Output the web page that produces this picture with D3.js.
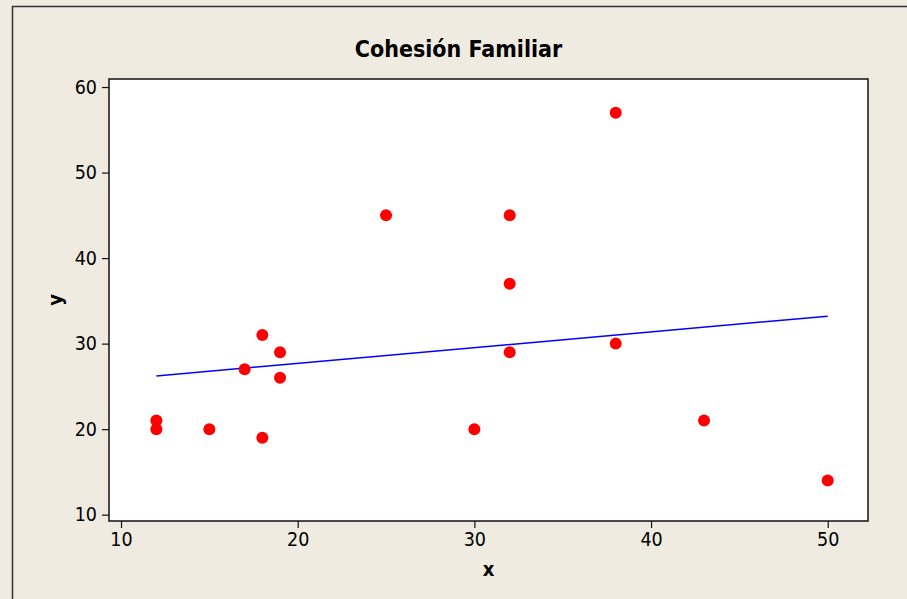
<!DOCTYPE html>
<html><head><meta charset="utf-8">
<script src="https://cdn.jsdelivr.net/npm/d3@7"></script>
<style>
html,body{margin:0;padding:0;background:#EFEBE1;}
svg{display:block;}
text{font-family:"DejaVu Sans Condensed","DejaVu Sans",sans-serif;fill:#000;}
</style></head>
<body>
<svg id="c" width="907" height="599"></svg>
<script>
const xValues = [12,12,15,17,18,18,19,19,25,30,32,32,32,38,38,43,50];
const yValues = [21,20,20,27,31,19,29,26,45,20,45,37,29,57,30,21,14];
const xTicks = [10,20,30,40,50];
const yTicks = [10,20,30,40,50,60];
const titleText = "Cohesión Familiar";
const xLabel = "x", yLabel = "y";

const svg = d3.select("#c");
const W = 907, H = 599;
const m = {left:109, top:79, right:868, bottom:521};

svg.append("rect").attr("x",0).attr("y",0).attr("width",W).attr("height",H).attr("fill","#EFEBE1");
// outer frame
svg.append("rect").attr("x",12.5).attr("y",6.5).attr("width",W+20).attr("height",H+20)
  .attr("fill","none").attr("stroke","#333").attr("stroke-width",1.5);

const x = d3.scaleLinear().domain([9.32,52.28]).range([m.left,m.right]);
const y = d3.scaleLinear().domain([9.26,60.94]).range([m.bottom,m.top]);

svg.append("rect").attr("x",m.left).attr("y",m.top).attr("width",m.right-m.left).attr("height",m.bottom-m.top)
  .attr("fill","#fff");

// regression line (least squares fit of the data)
const n = xValues.length;
const mx = d3.mean(xValues), my = d3.mean(yValues);
let sxy=0,sxx=0;
for(let i=0;i<n;i++){sxy+=(xValues[i]-mx)*(yValues[i]-my);sxx+=(xValues[i]-mx)**2;}
const b = sxy/sxx, a = my-b*mx;
const [x0,x1] = d3.extent(xValues);
svg.append("line").attr("x1",x(x0)).attr("y1",y(a+b*x0)).attr("x2",x(x1)).attr("y2",y(a+b*x1))
  .attr("stroke","#0000FF").attr("stroke-width",1.5);

svg.append("g").selectAll("circle").data(xValues.map((v,i)=>[v,yValues[i]])).join("circle")
  .attr("cx",d=>x(d[0])).attr("cy",d=>y(d[1])).attr("r",6).attr("fill","#FF0000");

svg.append("rect").attr("x",m.left).attr("y",m.top).attr("width",m.right-m.left).attr("height",m.bottom-m.top)
  .attr("fill","none").attr("stroke","#111").attr("stroke-width",1.5);

const gx = svg.append("g").attr("transform",`translate(0,${m.bottom})`)
  .call(d3.axisBottom(x).tickValues(xTicks).tickSize(7).tickSizeOuter(0).tickPadding(4));
const gy = svg.append("g").attr("transform",`translate(${m.left},0)`)
  .call(d3.axisLeft(y).tickValues(yTicks).tickSize(7).tickSizeOuter(0).tickPadding(5));
[gx,gy].forEach(g=>{
  g.select(".domain").remove();
  g.selectAll(".tick line").attr("stroke","#111").attr("stroke-width",1.2);
  g.selectAll(".tick text").style("font-family",'"DejaVu Sans Condensed","DejaVu Sans",sans-serif').style("font-size","19.5px").attr("fill","#000");
});

svg.append("text").attr("x",458.5).attr("y",57).attr("text-anchor","middle")
  .style("font-size","23px").style("font-weight","bold").text(titleText);
svg.append("text").attr("x",488.5).attr("y",576).attr("text-anchor","middle")
  .style("font-size","20px").style("font-weight","bold").text(xLabel);
svg.append("text").attr("transform","translate(62,300) rotate(-90)").attr("text-anchor","middle")
  .style("font-size","20px").style("font-weight","bold").text(yLabel);
</script>
</body></html>
